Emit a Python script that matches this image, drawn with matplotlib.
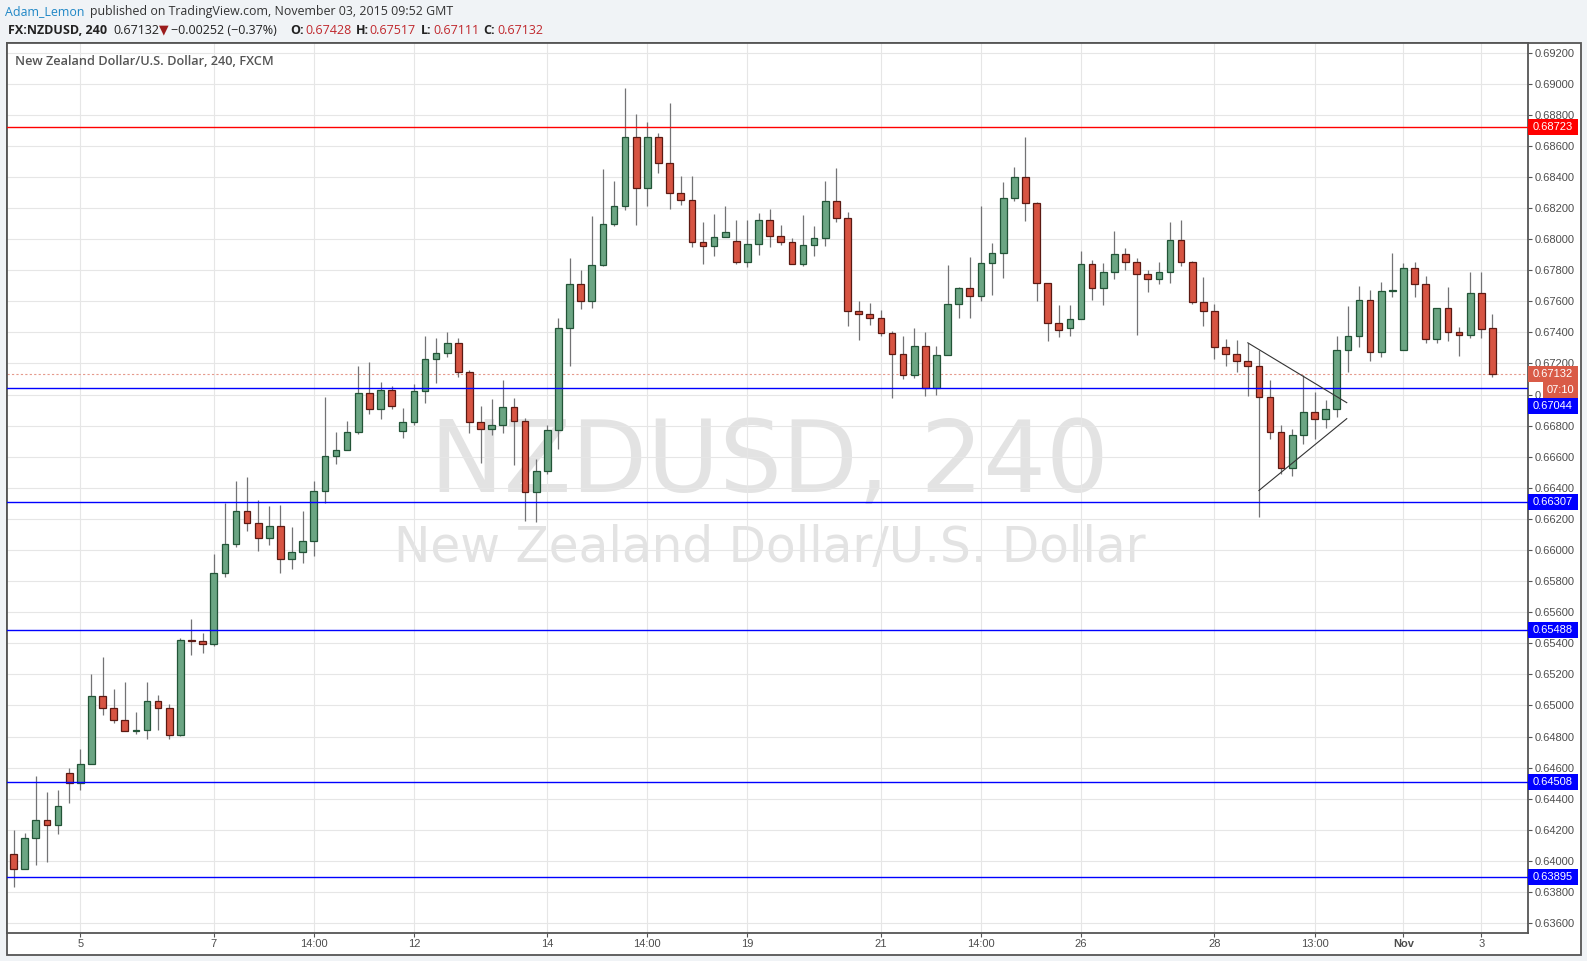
import matplotlib
matplotlib.use("Agg")
import numpy as np
import matplotlib.pyplot as plt
import matplotlib.transforms as mtransforms
from matplotlib.patches import Rectangle

plt.rcParams['font.family'] = ['Liberation Sans', 'DejaVu Sans']

# NZDUSD 4h candles
opens = [0.64044, 0.63946, 0.64148, 0.64262, 0.64232, 0.64564, 0.64501, 0.64623, 0.65061, 0.64984,
         0.64906, 0.64836, 0.64843, 0.65028, 0.64984, 0.64813, 0.65422, 0.65415, 0.65396, 0.65855,
         0.66040, 0.66253, 0.66176, 0.66080, 0.66157, 0.65944, 0.65984, 0.66061, 0.66382, 0.66607,
         0.66645, 0.66761, 0.67013, 0.66910, 0.67032, 0.66768, 0.66826, 0.67026, 0.67226, 0.67265,
         0.67329, 0.67148, 0.66826, 0.66781, 0.66806, 0.66923, 0.66832, 0.66374, 0.66510, 0.66774,
         0.67426, 0.67712, 0.67602, 0.67834, 0.68099, 0.68215, 0.68660, 0.68331, 0.68654, 0.68492,
         0.68299, 0.68254, 0.67983, 0.67957, 0.68015, 0.67989, 0.67854, 0.67970, 0.68125, 0.68022,
         0.67983, 0.67841, 0.67963, 0.68009, 0.68247, 0.68138, 0.67538, 0.67516, 0.67490, 0.67394,
         0.67258, 0.67127, 0.67310, 0.67045, 0.67252, 0.67581, 0.67684, 0.67632, 0.67845, 0.67910,
         0.68265, 0.68400, 0.68232, 0.67716, 0.67458, 0.67430, 0.67484, 0.67839, 0.67688, 0.67787,
         0.67903, 0.67852, 0.67774, 0.67742, 0.67787, 0.67994, 0.67852, 0.67594, 0.67535, 0.67303,
         0.67258, 0.67213, 0.67181, 0.66987, 0.66761, 0.66529, 0.66742, 0.66890, 0.66845, 0.66910,
         0.67290, 0.67374, 0.67606, 0.67271, 0.67665, 0.67290, 0.67813, 0.67710, 0.67355, 0.67555,
         0.67400, 0.67381, 0.67652, 0.67428]
highs = [0.64201, 0.64178, 0.64548, 0.64445, 0.64459, 0.64600, 0.64721, 0.65201, 0.65309, 0.65103,
         0.65150, 0.64960, 0.65150, 0.65070, 0.65012, 0.65431, 0.65553, 0.65468, 0.65972, 0.66302,
         0.66443, 0.66468, 0.66321, 0.66281, 0.66288, 0.66145, 0.66248, 0.66443, 0.66984, 0.66757,
         0.66828, 0.67183, 0.67209, 0.67080, 0.67052, 0.66912, 0.67067, 0.67376, 0.67363, 0.67402,
         0.67363, 0.67157, 0.66925, 0.66970, 0.67092, 0.66976, 0.66847, 0.66583, 0.66802, 0.67492,
         0.67880, 0.67802, 0.68146, 0.68454, 0.68372, 0.68972, 0.68804, 0.68753, 0.68682, 0.68875,
         0.68404, 0.68404, 0.68108, 0.68159, 0.68211, 0.68120, 0.68120, 0.68166, 0.68191, 0.68088,
         0.68009, 0.68153, 0.68082, 0.68372, 0.68456, 0.68172, 0.67602, 0.67589, 0.67544, 0.67409,
         0.67376, 0.67428, 0.67402, 0.67310, 0.67834, 0.67692, 0.67886, 0.68215, 0.67976, 0.68368,
         0.68467, 0.68654, 0.68241, 0.67716, 0.67576, 0.67576, 0.67923, 0.67867, 0.67847, 0.68052,
         0.67942, 0.67877, 0.67800, 0.67852, 0.68110, 0.68125, 0.67858, 0.67757, 0.67581, 0.67355,
         0.67348, 0.67335, 0.67288, 0.67092, 0.66806, 0.66776, 0.67127, 0.67017, 0.66963, 0.67376,
         0.67570, 0.67699, 0.67673, 0.67725, 0.67912, 0.67845, 0.67854, 0.67761, 0.67555, 0.67690,
         0.67434, 0.67789, 0.67789, 0.67517]
lows = [0.63831, 0.63946, 0.63972, 0.63991, 0.64171, 0.64370, 0.64454, 0.64623, 0.64937, 0.64885,
        0.64836, 0.64815, 0.64782, 0.64843, 0.64782, 0.64803, 0.65323, 0.65337, 0.65382, 0.65827,
        0.66019, 0.66122, 0.65993, 0.66033, 0.65855, 0.65878, 0.65916, 0.65963, 0.66302, 0.66553,
        0.66645, 0.66746, 0.66875, 0.66843, 0.66910, 0.66720, 0.66804, 0.66946, 0.67075, 0.67243,
        0.67114, 0.66753, 0.66559, 0.66740, 0.66753, 0.66546, 0.66185, 0.66178, 0.66490, 0.66649,
        0.67181, 0.67548, 0.67555, 0.67826, 0.68084, 0.68187, 0.68090, 0.68213, 0.68426, 0.68194,
        0.68219, 0.67948, 0.67839, 0.67890, 0.68015, 0.67841, 0.67819, 0.67897, 0.67951, 0.67961,
        0.67841, 0.67826, 0.67890, 0.67955, 0.68108, 0.67439, 0.67353, 0.67449, 0.67378, 0.66978,
        0.67101, 0.67108, 0.66991, 0.66998, 0.67252, 0.67492, 0.67492, 0.67604, 0.67643, 0.67753,
        0.68243, 0.68114, 0.67604, 0.67346, 0.67370, 0.67378, 0.67484, 0.67611, 0.67578, 0.67746,
        0.67804, 0.67385, 0.67662, 0.67710, 0.67720, 0.67830, 0.67581, 0.67443, 0.67232, 0.67187,
        0.67146, 0.66994, 0.66213, 0.66716, 0.66490, 0.66477, 0.66684, 0.66716, 0.66787, 0.66858,
        0.67146, 0.67308, 0.67217, 0.67243, 0.67630, 0.67290, 0.67630, 0.67333, 0.67333, 0.67346,
        0.67245, 0.67361, 0.67366, 0.67111]
closes = [0.63946, 0.64148, 0.64262, 0.64232, 0.64354, 0.64501, 0.64623, 0.65061, 0.64984, 0.64906,
          0.64836, 0.64845, 0.65028, 0.64984, 0.64813, 0.65422, 0.65415, 0.65396, 0.65855, 0.66040,
          0.66253, 0.66176, 0.66080, 0.66157, 0.65944, 0.65984, 0.66061, 0.66382, 0.66607, 0.66645,
          0.66761, 0.67013, 0.66910, 0.67032, 0.66929, 0.66826, 0.67026, 0.67226, 0.67265, 0.67329,
          0.67148, 0.66826, 0.66781, 0.66806, 0.66923, 0.66832, 0.66374, 0.66510, 0.66774, 0.67426,
          0.67712, 0.67602, 0.67834, 0.68099, 0.68215, 0.68660, 0.68331, 0.68654, 0.68492, 0.68299,
          0.68254, 0.67983, 0.67957, 0.68015, 0.68047, 0.67854, 0.67970, 0.68125, 0.68022, 0.67983,
          0.67841, 0.67963, 0.68009, 0.68247, 0.68138, 0.67538, 0.67516, 0.67490, 0.67394, 0.67258,
          0.67127, 0.67310, 0.67045, 0.67252, 0.67581, 0.67684, 0.67632, 0.67845, 0.67910, 0.68265,
          0.68400, 0.68232, 0.67716, 0.67458, 0.67413, 0.67484, 0.67839, 0.67688, 0.67787, 0.67903,
          0.67852, 0.67774, 0.67742, 0.67787, 0.67994, 0.67852, 0.67594, 0.67535, 0.67303, 0.67258,
          0.67213, 0.67181, 0.66987, 0.66761, 0.66529, 0.66742, 0.66890, 0.66845, 0.66910, 0.67290,
          0.67374, 0.67606, 0.67271, 0.67665, 0.67671, 0.67813, 0.67710, 0.67355, 0.67555, 0.67400,
          0.67381, 0.67652, 0.67419, 0.67132]

tick_pos = [6, 18, 27, 36, 48, 57, 66, 78, 87, 96, 108, 117, 125, 132]
tick_txt = ['5', '7', '14:00', '12', '14', '14:00', '19', '21', '14:00', '26', '28', '13:00', 'Nov', '3']

resistance = 0.68723
supports = [0.67044, 0.66307, 0.65488, 0.64508, 0.63895]
last_price = 0.67132
countdown = '07:10'

# triangle drawing
tri_upper_x = [111, 119.9]
tri_upper_y = [0.67333, 0.66948]
tri_lower_x = [112, 119.9]
tri_lower_y = [0.66383, 0.66845]

W, H = 1587, 961
fig = plt.figure(figsize=(W / 100, H / 100), dpi=100, facecolor='#f0f3f6')


def fx(x):
    return x / W


def fy(y):
    return 1 - y / H


L, R, T, B = 6.7, 1528, 43.3, 933
fig.add_artist(Rectangle((fx(L), fy(955)), fx(1581) - fx(L), fy(T) - fy(955),
                         transform=fig.transFigure, facecolor='white',
                         edgecolor='#555555', lw=1.3, zorder=-1))
ax = fig.add_axes([fx(L), fy(B), fx(R) - fx(L), fy(T) - fy(B)])
ax.set_facecolor('white')

# candles
n = len(opens)
xs = np.arange(n)
o = np.array(opens)
c = np.array(closes)
up = c >= o
bottoms = np.minimum(o, c)
heights = np.maximum(np.abs(c - o), 0.00005)
fills = np.where(up, '#6ba583', '#d75442')
edges = np.where(up, '#225437', '#5b1a13')
ax.vlines(xs, lows, highs, color='#737375', lw=0.9, zorder=2)
ax.bar(xs, heights, bottom=bottoms, width=0.6, color=fills, edgecolor=edges,
       linewidth=0.9, zorder=3)

# levels
ax.axhline(resistance, color='#ff0000', lw=1.0, zorder=4)
for s in supports:
    ax.axhline(s, color='#0000ff', lw=1.0, zorder=4)
ax.axhline(last_price, color='#e59a8c', lw=0.8, ls=(0, (2, 2)), zorder=1.5)

ax.plot(tri_upper_x, tri_upper_y, color='#333333', lw=0.8, zorder=5)
ax.plot(tri_lower_x, tri_lower_y, color='#333333', lw=0.8, zorder=5)

ax.set_xlim(-0.62, 136.2)
ax.set_ylim(0.63536, 0.6926)

yt = np.arange(0.636, 0.6921, 0.002)
ax.set_yticks(yt)
# the 0.67000 label sits under the countdown box, only its start shows
ax.set_yticklabels(['0.6' if abs(v - 0.670) < 1e-6 else '%.5f' % v for v in yt])
ax.yaxis.tick_right()
ax.set_xticks(tick_pos)
ax.set_xticklabels(tick_txt)
for lab in ax.get_xticklabels():
    if lab.get_text() == 'Nov':
        lab.set_fontweight('bold')
ax.tick_params(axis='y', direction='out', length=3, width=0.8, color='#555555',
               labelsize=8, labelcolor='#4d4d4d', pad=1.5)
ax.tick_params(axis='x', direction='out', length=3, width=0.8, color='#555555',
               labelsize=8, labelcolor='#4d4d4d', pad=1.5)
ax.grid(True, color='#e6e6e6', lw=0.8)
ax.set_axisbelow(True)
for sp in ax.spines.values():
    sp.set_color('#555555')
    sp.set_linewidth(1.3)

# watermark
ax.text(0.5011, 0.4957, 'NZDUSD, 240', transform=ax.transAxes, ha='center', va='baseline',
        fontsize=71, color='#e3e3e3', family='DejaVu Sans', zorder=0.2)
ax.text(0.5017, 0.417, 'New Zealand Dollar/U.S. Dollar', transform=ax.transAxes, ha='center',
        va='baseline', fontsize=35, color='#e3e3e3', family='DejaVu Sans', zorder=0.2)

# price boxes on the right axis
trans = mtransforms.blended_transform_factory(ax.transAxes, ax.transData)
ax_w = R - L
bw = 50 / ax_w
bh = 16 / 15543
boxes = [(resistance, '%.5f' % resistance, '#ff0000', 0.0, bw),
         (last_price, '%.5f' % last_price, '#d95b47', 0.0, bw),
         (None, countdown, '#d95b47', 15 / ax_w, 35 / ax_w)]
boxes += [(s, '%.5f' % s, '#0000ff', 0.0, bw) for s in supports]
prev_bottom = 1.0
prev_center = 1.0
for price, txt, col, x0, wd in boxes:
    cen = price if price is not None else prev_center - bh
    if cen + bh / 2 > prev_bottom:
        cen = prev_bottom - bh / 2
    prev_bottom = cen - bh / 2
    prev_center = cen
    ax.add_patch(Rectangle((1.0 + x0, cen - bh / 2), wd, bh, transform=trans, clip_on=False,
                           facecolor=col, edgecolor='none', zorder=10))
    ax.text(1.0 + x0 + wd / 2, cen, txt, transform=trans, ha='center', va='center',
            color='white', fontsize=8, clip_on=False, zorder=11)

# header
hdr = ['Open Sans', 'DejaVu Sans']
fig.text(fx(4.6), fy(11.7), 'Adam_Lemon', color='#1f87c6', fontsize=8.9, family=hdr, va='center')
fig.text(fx(90), fy(11.7), 'published on TradingView.com, November 03, 2015 09:52 GMT',
         color='#333333', fontsize=8.9, family=hdr, va='center')
y2 = fy(30)
fig.text(fx(7.7), y2, 'FX:NZDUSD, 240', color='#222222', fontsize=9, weight='bold', family=hdr, va='center')
fig.text(fx(113), y2, '0.67132', color='#222222', fontsize=9, family=hdr, va='center')
fig.text(fx(159), y2, '\u25bc', color='#9b1c1c', fontsize=9, family='DejaVu Sans', va='center')
fig.text(fx(171), y2, '\u22120.00252 (\u22120.37%)', color='#222222', fontsize=9, family=hdr, va='center')
for lx, lab, vx, val in [(290, 'O:', 305, '0.67428'), (356, 'H:', 369, '0.67517'),
                         (421, 'L:', 433.6, '0.67111'), (483, 'C:', 497, '0.67132')]:
    fig.text(fx(lx), y2, lab, color='#222222', fontsize=9, weight='bold', family=hdr, va='center')
    fig.text(fx(vx), y2, val, color='#c0282d', fontsize=9, family=hdr, va='center')

fig.text(fx(15.3), fy(61.7), 'New Zealand Dollar/U.S. Dollar, 240, FXCM', color='#555555',
         fontsize=9.2, weight='semibold', family=hdr, va='center', zorder=20)

fig.savefig('out.png', dpi=100, facecolor=fig.get_facecolor())
